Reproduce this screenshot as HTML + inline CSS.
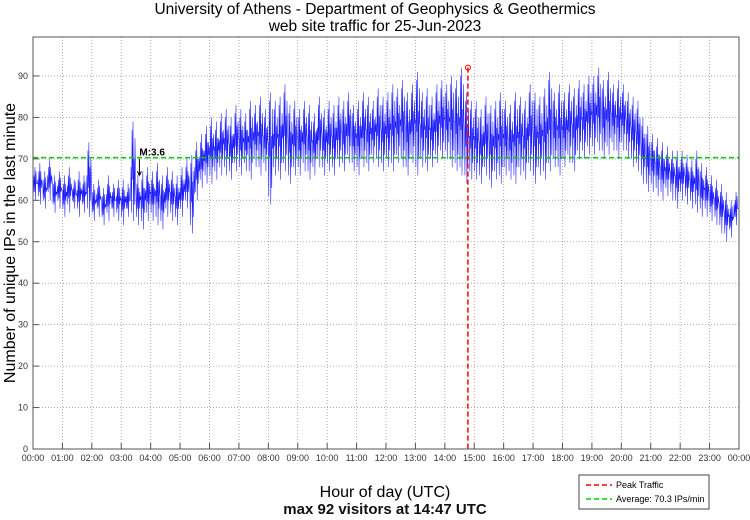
<!DOCTYPE html>
<html><head><meta charset="utf-8"><style>
body{margin:0;background:#fff;font-family:"Liberation Sans",sans-serif}
</style></head><body>
<svg id="chart" width="750" height="515" xmlns="http://www.w3.org/2000/svg" font-family="Liberation Sans, sans-serif">
<text x="375" y="14" text-anchor="middle" font-size="15.5">University of Athens - Department of Geophysics &amp; Geothermics</text>
<text x="375" y="31" text-anchor="middle" font-size="15.5">web site traffic for 25-Jun-2023</text>
<text transform="translate(15,243) rotate(-90)" text-anchor="middle" font-size="16">Number of unique IPs in the last minute</text>
<text x="385" y="497" text-anchor="middle" font-size="16">Hour of day (UTC)</text>
<text x="385" y="514" text-anchor="middle" font-size="15" font-weight="600" fill="#111">max 92 visitors at 14:47 UTC</text>
<g id="grid"></g><g id="series"></g><g id="overlay"></g><g id="axes"></g>
<g>
<rect x="579" y="475" width="130" height="34" fill="#fff" stroke="#444" stroke-width="1"/>
<line x1="586" y1="485" x2="612" y2="485" stroke="#ff0000" stroke-width="1.5" stroke-dasharray="5,3"/>
<text x="616" y="488" font-size="9">Peak Traffic</text>
<line x1="586" y1="499" x2="612" y2="499" stroke="#00cc00" stroke-width="1.5" stroke-dasharray="5,3"/>
<text x="616" y="502" font-size="9">Average: 70.3 IPs/min</text>
</g>
</svg>
<script>
const hourTicks=["00:00","01:00","02:00","03:00","04:00","05:00","06:00","07:00","08:00","09:00","10:00","11:00","12:00","13:00","14:00","15:00","16:00","17:00","18:00","19:00","20:00","21:00","22:00","23:00","00:00"];
const yTicks=[0,10,20,30,40,50,60,70,80,90];
const binHigh=[68,69,67,70,66,67, 66,68,65,67,66,74, 64,65,63,66,64,65, 65,64,79,66,67,68, 67,69,66,68,67,66, 68,70,71,74,76,78,
80,79,81,82,80,83, 82,81,84,83,85,82, 86,84,85,88,83,84, 82,84,83,81,85,82, 84,83,85,84,86,83, 84,86,85,84,87,85,
86,88,87,89,86,88, 91,86,87,85,88,89, 88,90,89,92,86,84, 84,82,85,83,84,86, 84,83,86,85,84,88, 86,85,87,91,86,88,
86,88,87,89,88,90, 90,92,89,91,88,89, 88,86,85,84,80,78, 76,75,74,73,72,72, 72,71,70,72,69,68, 66,65,64,62,60,62];
const binLow=[60,59,58,60,57,58, 56,57,58,56,57,56, 55,56,54,55,56,55, 54,56,55,54,53,55, 55,54,53,56,55,54, 56,58,52,60,63,64,
64,65,66,66,65,67, 66,67,65,68,66,67, 59,66,65,67,64,66, 66,67,65,66,68,66, 67,66,68,67,69,67, 66,68,67,69,68,67,
68,67,69,68,66,69, 66,68,67,68,69,70, 70,68,67,66,64,65, 65,64,66,63,65,64, 66,65,64,66,65,67, 64,66,65,67,68,66,
68,69,67,70,70,71, 71,72,70,71,72,70, 72,70,68,67,64,62, 62,61,60,61,60,58, 60,59,58,57,56,56, 55,54,52,50,51,54];
const average=[70.3];
const peakMinute=[887], peakValue=[92];
const note=["M:3.6"], noteMinute=[217];

const L=33,R=739,T=37,B=449,YMAX=99.4;
const xs=m=>L+(R-L)*m/1440, ys=v=>B-(B-T)*v/YMAX;
const NS="http://www.w3.org/2000/svg";
function mk(p,t,a){const e=document.createElementNS(NS,t);for(const k in a)e.setAttribute(k,a[k]);p.appendChild(e);return e;}
const grid=document.getElementById('grid'),axes=document.getElementById('axes'),series=document.getElementById('series'),ov=document.getElementById('overlay');
hourTicks.forEach((lab,i)=>{const x=xs(i*60);
 if(i>0&&i<24){const g=mk(grid,'line',{x1:x,x2:x,y1:T,y2:B,stroke:'#999','stroke-width':0.8,'stroke-dasharray':'1,2'});
 
 }
 const tk=mk(axes,'line',{x1:x,x2:x,y1:B,y2:B-6,stroke:'#555','stroke-width':1});
 
 
 const t=mk(axes,'text',{x:x,y:B+12,'text-anchor':'middle','font-size':9,fill:'#333'});t.textContent=lab;
 
 
});
yTicks.forEach(v=>{const y=ys(v);
 if(v>0){const g=mk(grid,'line',{x1:L,x2:R,y1:y,y2:y,stroke:'#999','stroke-width':0.8,'stroke-dasharray':'1,2'});
 
 }
 const tk=mk(axes,'line',{x1:L,x2:L+6,y1:y,y2:y,stroke:'#555','stroke-width':1});
 
 
 const t=mk(axes,'text',{x:L-5,y:y+3,'text-anchor':'end','font-size':9,fill:'#333'});t.textContent=v;
 
 
});
const fr=mk(axes,'rect',{x:L,y:T,width:R-L,height:B-T,fill:'none',stroke:'#555','stroke-width':1});


let d='';
binHigh.forEach((h,i)=>{const lo=binLow[i],m=(h+lo)/2;
 const seq=[m+1,lo+2,h-2,m-2,h,lo,m+3,lo+4,h-4,m];
 seq.forEach((v,j)=>{const x=xs(i*10+j);d+=(d?'L':'M')+x.toFixed(2)+','+ys(v).toFixed(2);});
});
const ln=mk(series,'path',{d:d,fill:'none',stroke:'#1a1aff','stroke-width':0.55});


const av=mk(ov,'line',{x1:L,x2:R,y1:ys(average[0]),y2:ys(average[0]),stroke:'#00cc00','stroke-width':1.5,'stroke-dasharray':'5,3'});


const px=xs(peakMinute[0]);
const pl=mk(ov,'line',{x1:px,x2:px,y1:ys(peakValue[0]),y2:B,stroke:'#ff0000','stroke-width':1.5,'stroke-dasharray':'5,3'});


const pc=mk(ov,'circle',{cx:px,cy:ys(peakValue[0]),r:2.5,fill:'none',stroke:'#ff0000','stroke-width':1});


const nx=xs(noteMinute[0]);
const nt=mk(ov,'text',{x:nx,y:ys(70.3)-2,'font-size':10,'font-weight':'bold',fill:'#000'});nt.textContent=note[0];


const ar=mk(ov,'path',{d:`M${nx},${ys(70)} L${nx},${ys(66)} M${nx-2},${ys(67)} L${nx},${ys(66)} L${nx+2},${ys(67)}`,stroke:'#000','stroke-width':1,fill:'none'});


</script>
</body></html>
